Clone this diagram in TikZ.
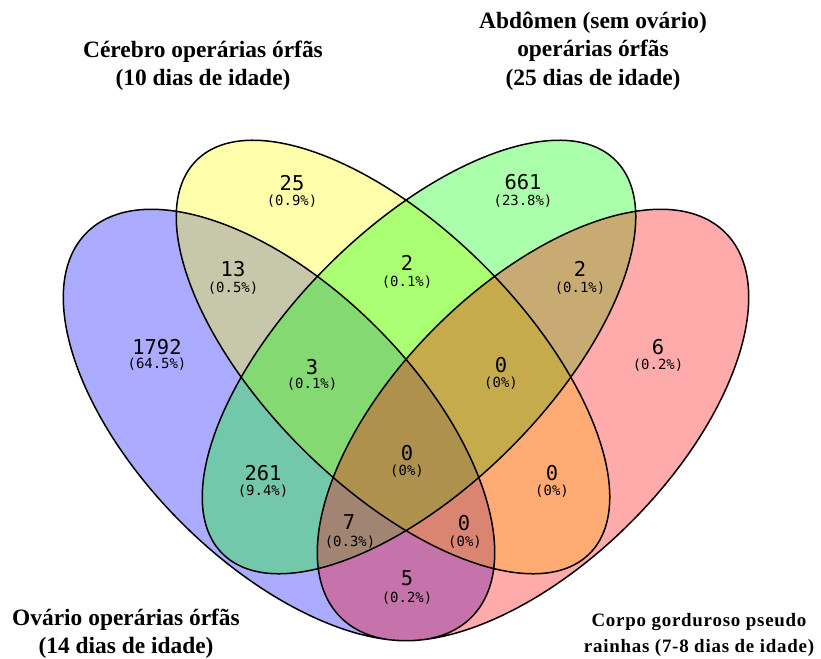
\documentclass[tikz,border=0pt]{standalone}
\usepackage{fontspec}
\setmainfont{Liberation Serif}
\newfontfamily\vennmono{DejaVu Sans Mono}
\usepackage{xcolor}
\usepackage{tikz}

\definecolor{ovario}{RGB}{0,0,255}
\definecolor{cerebro}{RGB}{255,255,0}
\definecolor{abdomen}{RGB}{0,255,0}
\definecolor{corpo}{RGB}{255,0,0}

\tikzset{
	setfill/.style={fill opacity=0.33},
	cnt/.style={font=\vennmono\fontsize{20.5}{20}\selectfont,inner sep=0pt},
	pct/.style={font=\vennmono\fontsize{14}{14}\selectfont,inner sep=0pt},
	ttl/.style={font=\bfseries\fontsize{23.5}{28.5}\selectfont,align=center,inner sep=0pt},
	ttlsmall/.style={font=\bfseries\addfontfeature{LetterSpace=4}\fontsize{19}{26}\selectfont,align=center,inner sep=0pt},
}

\begin{document}
\begin{tikzpicture}[x=1bp,y=-1bp]
		\def\lw{1.5bp}
		\useasboundingbox (0,0) rectangle (821,659);
		\fill [ovario,setfill] (279,425) ellipse [x radius=272bp,y radius=138bp,rotate=-45];
		\fill [cerebro,setfill] (393,357) ellipse [x radius=278bp,y radius=129bp,rotate=-45];
		\fill [abdomen,setfill] (419,357) ellipse [x radius=278bp,y radius=129bp,rotate=45];
		\fill [corpo,setfill] (533,425) ellipse [x radius=272bp,y radius=138bp,rotate=45];
		\draw [line width=\lw] (279,425) ellipse [x radius=272bp,y radius=138bp,rotate=-45]
			  (393,357) ellipse [x radius=278bp,y radius=129bp,rotate=-45]
			  (419,357) ellipse [x radius=278bp,y radius=129bp,rotate=45]
			  (533,425) ellipse [x radius=272bp,y radius=138bp,rotate=45];

		\node [cnt] (n25) at (292,183) {25};
		\node [pct] (p25) at (292,201) {(0.9\%)};
		\node [cnt] (n661) at (523,182) {661};
		\node [pct] (p661) at (523,201) {(23.8\%)};
		\node [cnt] (n13) at (233,269) {13};
		\node [pct] (p13) at (233,288) {(0.5\%)};
		\node [cnt] (n2a) at (407,263) {2};
		\node [pct] (p2a) at (407,282) {(0.1\%)};
		\node [cnt] (n2b) at (580,269) {2};
		\node [pct] (p2b) at (580,288) {(0.1\%)};
		\node [cnt] (n1792) at (157,347) {1792};
		\node [pct] (p1792) at (157,364) {(64.5\%)};
		\node [cnt] (n3) at (312,367) {3};
		\node [pct] (p3) at (312,384) {(0.1\%)};
		\node [cnt] (n0a) at (501,365) {0};
		\node [pct] (p0a) at (501,383) {(0\%)};
		\node [cnt] (n6) at (658,347) {6};
		\node [pct] (p6) at (658,365) {(0.2\%)};
		\node [cnt] (n0b) at (407,453) {0};
		\node [pct] (p0b) at (407,471) {(0\%)};
		\node [cnt] (n261) at (263,473) {261};
		\node [pct] (p261) at (263,491) {(9.4\%)};
		\node [cnt] (n0c) at (552,473) {0};
		\node [pct] (p0c) at (552,491) {(0\%)};
		\node [cnt] (n7) at (349,522) {7};
		\node [pct] (p7) at (350,542) {(0.3\%)};
		\node [cnt] (n0d) at (464,523) {0};
		\node [pct] (p0d) at (465,542) {(0\%)};
		\node [cnt] (n5) at (407,578) {5};
		\node [pct] (p5) at (407,598) {(0.2\%)};

		\node [ttl] (tcerebro) at (203,66) {Cérebro operárias órfãs\\(10 dias de idade)};
		\node [ttl] (tabdomen) at (593,51) {Abdômen (sem ovário)\\operárias órfãs\\(25 dias de idade)};
		\node [ttl] (tovario) at (126,634) {Ovário operárias órfãs\\(14 dias de idade)};
		\node [ttlsmall] (tcorpo) at (699,635) {Corpo gorduroso pseudo\\rainhas (7-8 dias de idade)};
	\end{tikzpicture}
\end{document}
